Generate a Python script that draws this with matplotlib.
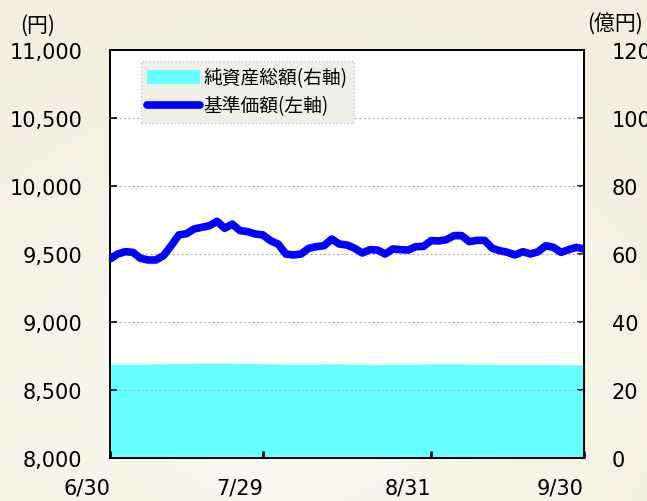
import numpy as np
import matplotlib.pyplot as plt
from matplotlib.patches import Patch
from matplotlib.lines import Line2D
from matplotlib.colors import LinearSegmentedColormap

plt.rcParams['font.family'] = ['DejaVu Sans']

# 基準価額 (left axis, yen), one value per business day from 6/30 to 9/30
nav = [9463, 9500, 9517, 9512, 9468, 9456, 9456, 9488, 9561, 9640,
       9649, 9684, 9696, 9708, 9740, 9689, 9720, 9672, 9664, 9647,
       9640, 9598, 9573, 9500, 9493, 9500, 9542, 9554, 9561, 9610,
       9573, 9566, 9542, 9507, 9532, 9529, 9500, 9537, 9532, 9529,
       9554, 9556, 9598, 9596, 9605, 9635, 9635, 9591, 9600, 9600,
       9542, 9524, 9512, 9493, 9517, 9500, 9517, 9561, 9549, 9512,
       9532, 9549, 9537]

# 純資産総額 (right axis, 億円)
assets = [27.6, 27.6, 27.6, 27.6, 27.6, 27.6, 27.7, 27.7, 27.8, 27.8,
          27.8, 27.9, 27.9, 27.9, 27.9, 27.9, 27.9, 27.8, 27.8, 27.8,
          27.7, 27.7, 27.7, 27.6, 27.6, 27.6, 27.6, 27.6, 27.7, 27.7,
          27.7, 27.6, 27.6, 27.6, 27.5, 27.5, 27.5, 27.6, 27.6, 27.6,
          27.6, 27.6, 27.7, 27.7, 27.7, 27.7, 27.7, 27.6, 27.6, 27.6,
          27.5, 27.5, 27.5, 27.5, 27.5, 27.5, 27.5, 27.5, 27.5, 27.4,
          27.4, 27.4, 27.4]

tick_idx = [0, 20, 42, 62]
tick_labels = ['6/30', '7/29', '8/31', '9/30']

x = np.arange(len(nav))
jp = ['Noto Sans CJK JP', 'DejaVu Sans']

fig = plt.figure(figsize=(6.47, 5.02), dpi=100)
fig.patch.set_facecolor('#f6f3e9')

# soft background gradient
bg = fig.add_axes([0, 0, 1, 1], zorder=-10)
gy, gx = np.mgrid[0:1:200j, 0:1:200j]
glow = np.exp(-((gx - 0.45) ** 2 + (gy - 0.75) ** 2) / 0.25)
bg.imshow(glow, cmap=LinearSegmentedColormap.from_list('bg', ['#f3eedd', '#fbf9f2']),
          extent=[0, 1, 0, 1], aspect='auto')
bg.axis('off')

ax = fig.add_axes([0.170, 0.0857, 0.7326, 0.8127])
ax2 = ax.twinx()
ax2.patch.set_visible(True)
ax2.patch.set_facecolor('white')

ax2.fill_between(x, assets, 0, color='#66ffff', linewidth=0)
ax2.set_ylim(0, 120)
ax2.set_yticks(range(0, 121, 20))

ax.plot(x, nav, color='#0000ff', linewidth=5.5, solid_capstyle='round',
        solid_joinstyle='round', zorder=5)
ax.set_zorder(ax2.get_zorder() + 1)
ax.patch.set_visible(False)

ax.set_ylim(8000, 11000)
ax.set_yticks(range(8000, 11001, 500))
ax.set_yticklabels([f'{v:,}' for v in range(8000, 11001, 500)])
ax.set_xlim(0, len(nav) - 1)
ax.set_xticks(tick_idx)
ax.set_xticklabels(tick_labels, ha='right')

for v in range(8500, 11000, 500):
    ax.axhline(v, color='#b0b0b0', linestyle=(0, (2, 2)), linewidth=0.8, zorder=1)

ax.tick_params(axis='y', direction='in', length=5, width=1.2, labelsize=15, pad=20)
ax.tick_params(axis='x', direction='in', length=5, width=2, labelsize=15, pad=14)
ax2.tick_params(axis='y', direction='in', length=5, width=1.2, labelsize=15, pad=20)
for a in (ax, ax2):
    for s in a.spines.values():
        s.set_color('black')
        s.set_linewidth(1.3)

fig.text(0.058, 0.948, '(円)', fontsize=15, ha='center', va='center', family=jp)
fig.text(0.950, 0.952, '(億円)', fontsize=15, ha='center', va='center', family=jp)

handles = [Patch(facecolor='#66ffff', edgecolor='none'),
           Line2D([0], [0], color='#0000ff', linewidth=5.5, solid_capstyle='round')]
leg = ax.legend(handles, ['純資産総額(右軸)', '基準価額(左軸)'],
                loc='upper left', bbox_to_anchor=(0.065, 0.973),
                prop={'family': jp, 'size': 13.5},
                frameon=True, fancybox=False, handlelength=2.8, handletextpad=0.2,
                borderpad=0.35, labelspacing=0.35, borderaxespad=0)
leg.get_frame().set_facecolor('#efefe8')
leg.get_frame().set_edgecolor('#c8c8c8')
leg.get_frame().set_linestyle(':')
leg.get_frame().set_alpha(1)

fig.savefig('out.png', dpi=100, facecolor=fig.get_facecolor())
